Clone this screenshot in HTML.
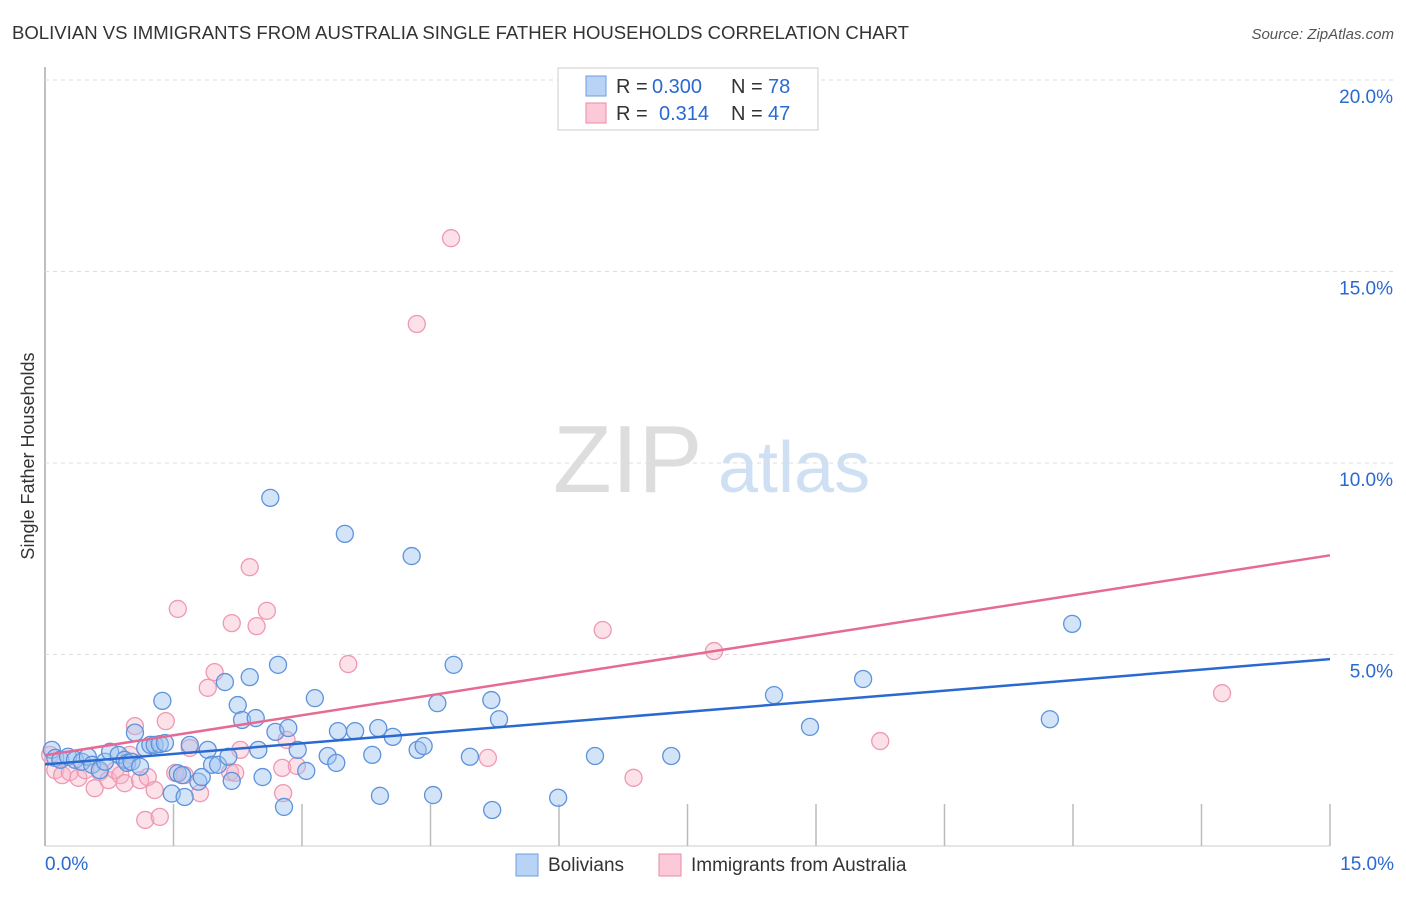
<!DOCTYPE html>
<html><head><meta charset="utf-8"><style>
body{margin:0;background:#fff;font-family:"Liberation Sans",sans-serif;}
svg text{font-family:"Liberation Sans",sans-serif;}
</style></head><body>
<svg id="chart" width="1406" height="892">
<text x="12" y="39" font-size="18" fill="#333" textLength="897" lengthAdjust="spacingAndGlyphs">BOLIVIAN VS IMMIGRANTS FROM AUSTRALIA SINGLE FATHER HOUSEHOLDS CORRELATION CHART</text>
<text x="1394" y="39" font-size="15" fill="#555" font-style="italic" text-anchor="end">Source: ZipAtlas.com</text>
<text x="34" y="456" font-size="18" fill="#333" text-anchor="middle" transform="rotate(-90 34 456)">Single Father Households</text>
<text x="553" y="492" font-size="96" fill="#ddd" font-family="Liberation Serif">ZIP</text>
<text x="718" y="492" font-size="72" fill="#cfe0f5">atlas</text>
<g id="grid"></g><g id="marks"></g>
<g>
<rect x="558" y="68" width="260" height="62" fill="#fff" stroke="#ccc"/>
<rect x="586" y="76" width="20" height="20" fill="#b9d3f7" stroke="#6b9de0"/>
<rect x="586" y="103" width="20" height="20" fill="#fbc9d8" stroke="#e88aa8"/>
<text x="616" y="93" font-size="20" fill="#333">R =</text>
<text x="652" y="93" font-size="20" fill="#2a6ad0">0.300</text>
<text x="731" y="93" font-size="20" fill="#333">N =</text>
<text x="768" y="93" font-size="20" fill="#2a6ad0">78</text>
<text x="616" y="120" font-size="20" fill="#333">R =</text>
<text x="659" y="120" font-size="20" fill="#2a6ad0">0.314</text>
<text x="731" y="120" font-size="20" fill="#333">N =</text>
<text x="768" y="120" font-size="20" fill="#2a6ad0">47</text>
</g>
<g>
<rect x="516" y="854" width="22" height="22" fill="#b9d3f7" stroke="#6b9de0"/>
<text x="548" y="871" font-size="19" fill="#333">Bolivians</text>
<rect x="659" y="854" width="22" height="22" fill="#fbc9d8" stroke="#e88aa8"/>
<text x="691" y="871" font-size="19" fill="#333">Immigrants from Australia</text>
</g>
</svg>
<script>
const yTicks=[5,10,15,20];
const xTickLabels=["0.0%","15.0%"];
const blueX=[0.08,0.12,0.18,0.27,0.35,0.43,0.5,0.55,0.64,0.7,0.76,0.86,0.93,0.96,1.01,1.05,1.11,1.17,1.23,1.28,1.34,1.37,1.4,1.48,1.55,1.6,1.63,1.69,1.79,1.83,1.9,1.95,2.02,2.1,2.14,2.18,2.25,2.3,2.39,2.46,2.49,2.54,2.63,2.69,2.72,2.79,2.84,2.95,3.05,3.15,3.3,3.4,3.42,3.5,3.62,3.82,3.89,3.91,4.06,4.28,4.35,4.42,4.53,4.58,4.77,4.96,5.21,5.22,5.3,5.99,6.42,7.31,8.51,8.93,9.55,11.73,11.99];
const blueY=[2.51,2.3,2.25,2.33,2.25,2.2,2.33,2.12,1.98,2.2,2.46,2.38,2.25,2.17,2.2,2.96,2.07,2.56,2.64,2.64,2.66,3.79,2.69,1.37,1.9,1.85,1.28,2.64,1.68,1.8,2.51,2.12,2.12,4.28,2.33,1.7,3.68,3.29,4.41,3.34,2.51,1.8,9.09,2.98,4.73,1.02,3.08,2.51,1.96,3.86,2.35,2.17,3.0,8.15,3.0,2.38,3.08,1.31,2.85,7.57,2.51,2.61,1.33,3.73,4.73,2.33,3.81,0.94,3.31,1.26,2.35,2.35,3.94,3.11,4.36,3.31,5.8];
const pinkX=[0.06,0.12,0.2,0.29,0.39,0.47,0.58,0.64,0.74,0.82,0.88,0.93,0.99,1.05,1.11,1.2,1.28,1.17,1.34,1.41,1.52,1.55,1.63,1.69,1.81,1.9,1.98,2.16,2.18,2.22,2.28,2.39,2.47,2.59,2.77,2.78,2.82,2.94,3.54,4.34,4.74,5.17,6.51,6.87,7.81,9.75,13.74];
const pinkY=[2.38,1.98,1.85,1.93,1.78,1.98,1.51,1.93,1.72,1.98,1.85,1.64,2.38,3.13,1.72,1.8,1.46,0.68,0.76,3.26,1.91,6.19,1.85,2.56,1.38,4.13,4.54,1.93,5.82,1.91,2.51,7.28,5.74,6.14,2.04,1.38,2.77,2.09,4.75,13.63,15.87,2.3,5.64,1.78,5.09,2.74,3.99];
const blueTrend=[2.13,4.88];
const pinkTrend=[2.37,7.59];
const L=45,R=1330,B=846,T=80;
const xs=v=>L+v/15*(R-L);
const ys=v=>B-v/20*(B-T);
const NS="http://www.w3.org/2000/svg";
const grid=document.getElementById('grid'),marks=document.getElementById('marks');
function mk(tag,attrs,parent){const e=document.createElementNS(NS,tag);for(const k in attrs)e.setAttribute(k,attrs[k]);parent.appendChild(e);return e;}
let ax=mk('line',{x1:45,y1:67,x2:45,y2:846,stroke:'#aaa','stroke-width':1.5},grid);


let bx=mk('line',{x1:45,y1:846,x2:1330,y2:846,stroke:'#ccc'},grid);


yTicks.forEach(t=>{
 let g=mk('line',{x1:45,x2:1394,y1:ys(t),y2:ys(t),stroke:'#ddd','stroke-dasharray':'4 4'},grid);
 
 
 let tx=mk('text',{x:1393,y:ys(t)+23,'text-anchor':'end','font-size':19,fill:'#2a6ad0'},grid);
 tx.textContent=t.toFixed(1)+'%';
 
 
});
for(let i=1;i<=10;i++){let x=xs(i*1.5);let tk=mk('line',{x1:x,x2:x,y1:804,y2:846,stroke:'#bbb','stroke-width':1.5},grid);
 
 }
[[0,'start',45],[15,'end',1394]].forEach((d,i)=>{let tx=mk('text',{x:d[2],y:870,'text-anchor':d[1],'font-size':19,fill:'#2a6ad0'},grid);tx.textContent=xTickLabels[i];
 
 });
function dots(X,Y,fill,stroke,name){X.forEach((x,i)=>{let c=mk('circle',{cx:xs(x),cy:ys(Y[i]),r:8.5,fill:fill,stroke:stroke,'stroke-width':1.3},marks);
 
 });}
dots(pinkX,pinkY,'rgba(248,180,200,0.4)','#ee98b3','point-australia');
dots(blueX,blueY,'rgba(160,195,240,0.45)','#5d93dc','point-bolivian');
let bl=mk('line',{x1:xs(0),y1:ys(blueTrend[0]),x2:xs(15),y2:ys(blueTrend[1]),stroke:'#2a6ad0','stroke-width':2.5},marks);


let pl=mk('line',{x1:xs(0),y1:ys(pinkTrend[0]),x2:xs(15),y2:ys(pinkTrend[1]),stroke:'#e66a94','stroke-width':2.5},marks);


</script>
</body></html>
